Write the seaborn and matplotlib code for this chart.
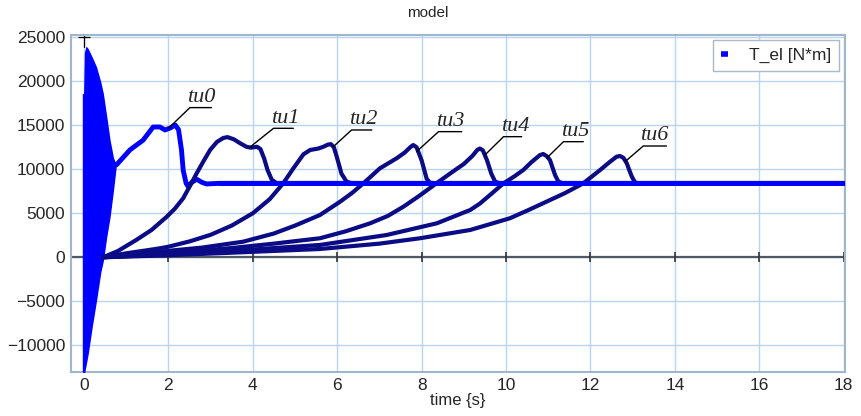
import matplotlib
matplotlib.use("Agg")
import numpy as np
import matplotlib.pyplot as plt
import pandas as pd
import seaborn as sns

# start-up oscillation envelope of T_el (time s, torque N*m)
env_t = [-0.04, -0.01, 0.01, 0.05, 0.1, 0.2, 0.3, 0.4, 0.46, 0.54, 0.62, 0.7, 0.77]
env_upper = [18600, 18600, 23300, 24000, 23700, 22700, 21600, 19900, 18600, 16000,
             13300, 11300, 10500]
env_lower = [-13000, -13100, -13300, -12300, -11000, -7800, -4850, -1700, -400, 2300,
             4600, 7600, 10500]

# tu0 run (main blue trace)
tu0_t = [0.77, 1.09, 1.4, 1.64, 1.8, 1.92, 2.05, 2.16, 2.24, 2.31, 2.35, 2.42, 2.47,
         2.55, 2.67, 2.8, 2.9, 3.2, 18.0]
tu0_v = [10500, 12200, 13300, 14800, 14800, 14460, 14700, 15030, 14500, 12200, 9900,
         8400, 8020, 8500, 8860, 8500, 8330, 8400, 8400]

# later switching runs tu1..tu6
tu1_t = [0.45, 0.8, 1.25, 1.6, 1.96, 2.15, 2.35, 2.51, 2.67, 2.83, 2.99, 3.15, 3.3, 3.4,
         3.55, 3.7, 3.85, 3.95, 4.1, 4.18, 4.27, 4.35, 4.45, 4.57]
tu1_v = [0, 700, 2000, 3100, 4600, 5500, 6700, 8100, 9540, 10900, 12200, 13100, 13550,
         13650, 13400, 12950, 12550, 12450, 12550, 12300, 11200, 9900, 8800, 8400]

tu2_t = [0.45, 1.0, 1.5, 1.8, 2.0, 2.5, 3.0, 3.5, 4.0, 4.4, 4.72, 4.96, 5.2, 5.36, 5.55,
         5.67, 5.78, 5.85, 5.92, 5.99, 6.1, 6.22, 6.35]
tu2_v = [0, 450, 800, 1020, 1200, 1800, 2550, 3600, 5000, 6600, 8400, 10100, 11700,
         12190, 12350, 12550, 12800, 12850, 12500, 11400, 9500, 8600, 8400]

tu3_t = [0.45, 1.8, 2.8, 3.77, 4.5, 5.0, 5.59, 6.07, 6.35, 6.62, 7.01, 7.41, 7.6, 7.73,
         7.8, 7.88, 8.0, 8.12, 8.2, 8.35]
tu3_v = [0, 640, 1100, 1770, 2700, 3600, 4800, 6320, 7300, 8400, 10100, 11250, 11900,
         12500, 12750, 12500, 11000, 8900, 8450, 8400]

tu4_t = [0.45, 2.0, 3.5, 4.5, 5.59, 6.2, 6.78, 7.2, 7.57, 7.95, 8.35, 8.7, 9.0, 9.2,
         9.32, 9.38, 9.45, 9.55, 9.65, 9.74, 9.85]
tu4_v = [0, 450, 1050, 1550, 2160, 2950, 3860, 4700, 5750, 7000, 8400, 9600, 10600,
         11500, 12200, 12350, 12150, 11000, 9500, 8600, 8400]

tu5_t = [0.45, 2.0, 3.5, 5.59, 7.17, 8.36, 9.15, 9.38, 9.65, 9.94, 10.2, 10.41, 10.6,
         10.8, 10.88, 10.96, 11.04, 11.1, 11.16, 11.24, 11.35]
tu5_v = [0, 330, 720, 1400, 2530, 3860, 5370, 6100, 7200, 8400, 9200, 9920, 10800,
         11600, 11730, 11500, 11050, 10200, 9350, 8590, 8400]

tu6_t = [0.45, 2.0, 3.5, 5.59, 7.0, 7.96, 9.15, 10.09, 10.5, 10.96, 11.4, 11.83, 12.23,
         12.45, 12.62, 12.7, 12.78, 12.86, 12.92, 12.98, 13.06, 13.2]
tu6_v = [0, 230, 520, 940, 1550, 2160, 3100, 4430, 5300, 6320, 7300, 8400, 9920,
         10800, 11430, 11500, 11300, 10680, 9900, 9160, 8470, 8400]

# annotation labels: point on curve, elbow of leader line, end of underline
ann_labels = ["tu0", "tu1", "tu2", "tu3", "tu4", "tu5", "tu6"]
ann_tip = [(2.0, 14650), (3.93, 12500), (5.91, 12570), (7.88, 12000), (9.5, 11620),
           (10.96, 11250), (12.82, 10860)]
ann_elbow = [(2.51, 17000), (4.49, 14650), (6.34, 14460), (8.4, 14270), (9.94, 13700),
             (11.36, 13130), (13.25, 12640)]
ann_end = [3.02, 4.96, 6.82, 8.95, 10.37, 11.83, 13.8]

x_ticks = [0, 2, 4, 6, 8, 10, 12, 14, 16, 18]
y_ticks = [-10000, -5000, 0, 5000, 10000, 15000, 20000, 25000]

sns.set_style("white")
plt.rcParams['font.family'] = ['Liberation Sans', 'DejaVu Sans']

runs = pd.concat([
    pd.DataFrame({"time": t, "T_el": v, "run": name})
    for name, t, v in [("tu1", tu1_t, tu1_v), ("tu2", tu2_t, tu2_v), ("tu3", tu3_t, tu3_v),
                       ("tu4", tu4_t, tu4_v), ("tu5", tu5_t, tu5_v), ("tu6", tu6_t, tu6_v)]
])
main = pd.DataFrame({"time": tu0_t, "T_el": tu0_v})

fig = plt.figure(figsize=(8.61, 4.16), dpi=100)
ax = fig.add_axes([0.0821, 0.1058, 0.8993, 0.8101])

ax.set_xlim(-0.315, 18.03)
ax.set_ylim(-13030, 25250)

ax.grid(True, color="#b8d4f0", lw=1.0, zorder=0)
ax.axhline(0, color="#4f5963", lw=1.6, zorder=1)
# little axis cross at the top of t=0
ax.axvline(0, ymin=0.965, ymax=1.0, color="black", lw=0.9, zorder=1)
ax.plot([0], [25000], marker="_", ms=9, mew=0.9, color="black", zorder=1)
ax.plot(x_ticks[1:], [0] * (len(x_ticks) - 1), ls="none", marker="|", ms=7,
        mew=1.2, color="#333333", zorder=1)

ax.fill_between(env_t, env_lower, env_upper, color="#0000ff", lw=0, zorder=3)
sns.lineplot(data=main, x="time", y="T_el", color="#0000ff", lw=3.5, sort=False,
             estimator=None, ax=ax, label="T_el [N*m]", zorder=3)
sns.lineplot(data=runs, x="time", y="T_el", units="run", estimator=None, sort=False,
             color="#0b0b86", lw=3.0, ax=ax, legend=False, zorder=4)
# keep the flat blue steady state visible over the navy tails
ax.plot([3.2, 18.0], [8400, 8400], color="#0000ff", lw=3.5, zorder=4.5)

for lab, tip, elb, xe in zip(ann_labels, ann_tip, ann_elbow, ann_end):
    ax.plot([tip[0], elb[0], xe], [tip[1], elb[1], elb[1]], color="black", lw=1.0, zorder=5)
    ax.annotate(lab, xy=elb, xytext=(-2, 4), textcoords="offset points", ha="left",
                va="baseline", fontsize=16, style="italic",
                family=["Liberation Serif", "DejaVu Serif"], zorder=6)

ax.set_xticks(x_ticks)
ax.set_yticks(y_ticks)
ax.tick_params(length=0, labelsize=12.5, pad=4)
ax.set_xlabel("time {s}", fontsize=12, labelpad=0)
ax.set_ylabel("")
for s in ax.spines.values():
    s.set_color("#9fb6cd")
    s.set_linewidth(1.5)

leg = ax.legend(loc="upper right", bbox_to_anchor=(0.9922, 0.985), borderaxespad=0,
                fontsize=12.5, handlelength=0.4, handletextpad=1.2, fancybox=False,
                framealpha=1, edgecolor="#a9b9c9", borderpad=0.45)
for h in leg.get_lines():
    h.set_linewidth(4)
    h.set_solid_capstyle("butt")

fig.suptitle("model", fontsize=11, x=0.497, y=0.985)

fig.savefig("out.png", dpi=100)
